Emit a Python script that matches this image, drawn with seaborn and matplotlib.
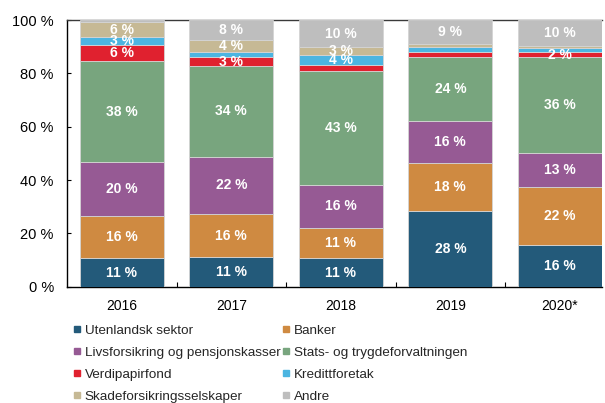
import matplotlib
matplotlib.use("Agg")
import matplotlib.pyplot as plt
from matplotlib.lines import Line2D
from matplotlib.ticker import FixedLocator
import seaborn as sns
import numpy as np

sns.set_theme(style="white")
plt.rcParams["font.family"] = ["Liberation Sans", "DejaVu Sans"]

years = ["2016", "2017", "2018", "2019", "2020*"]

series_names = [
    "Utenlandsk sektor",
    "Banker",
    "Livsforsikring og pensjonskasser",
    "Stats- og trygdeforvaltningen",
    "Verdipapirfond",
    "Kredittforetak",
    "Skadeforsikringsselskaper",
    "Andre",
]

utenlandsk = [10.6, 11.1, 10.6, 28.3, 15.6]
banker = [16.0, 16.1, 11.4, 17.9, 21.8]
livsforsikring = [20.1, 21.6, 16.3, 16.0, 12.8]
stats_trygd = [37.8, 34.0, 42.7, 23.8, 35.9]
verdipapirfond = [6.1, 3.2, 2.1, 2.1, 1.8]
kredittforetak = [3.0, 2.0, 3.8, 1.9, 1.5]
skadeforsikring = [5.6, 4.4, 2.9, 0.9, 1.0]
andre = [0.8, 7.6, 10.2, 9.1, 9.6]

colors = ["#235A7A", "#CF8A41", "#965A94", "#78A57E",
          "#E0212F", "#4CB5E1", "#C6B995", "#BEBEBE"]

# segments too thin to carry a value label: (series index, year index)
unlabeled = {(7, 0), (5, 1), (4, 2), (4, 3), (5, 3), (6, 3), (5, 4), (6, 4)}

values = [utenlandsk, banker, livsforsikring, stats_trygd,
          verdipapirfond, kredittforetak, skadeforsikring, andre]

fig = plt.figure(figsize=(6.05, 4.03), dpi=100)
ax = fig.add_axes([67 / 605, 1 - 286.7 / 403, (602 - 67) / 605, (286.7 - 20) / 403])

bar_w = 0.77
bottom = np.zeros(len(years))
for i, (name, vals, col) in enumerate(zip(series_names, values, colors)):
    sns.barplot(x=years, y=vals, bottom=bottom, color=col, saturation=1,
                width=bar_w, edgecolor="#d4d4d4", linewidth=0.6,
                zorder=3, ax=ax)
    for j, v in enumerate(vals):
        if (i, j) in unlabeled:
            continue
        ax.text(j, bottom[j] + v / 2, f"{v:.0f} %", ha="center", va="center",
                color="white", fontsize=10, fontweight="bold", zorder=4)
    bottom += np.array(vals)

ax.set_xlim(-0.5, 4 + bar_w / 2)
ax.set_ylim(0, 100)
ax.set_yticks(range(0, 101, 20))
ax.set_yticklabels([f"{t} %" for t in range(0, 101, 20)])
ax.set_xlabel("")
ax.set_ylabel("")

ax.tick_params(axis="y", direction="in", length=3, width=0.8, color="black",
               labelsize=10.5, labelcolor="black", pad=9.5, left=True)
ax.tick_params(axis="x", which="major", length=0, labelsize=10,
               labelcolor="black", pad=9)
ax.xaxis.set_minor_locator(FixedLocator([0.5, 1.5, 2.5, 3.5]))
ax.tick_params(axis="x", which="minor", direction="in", length=3.5,
               width=0.8, color="black", bottom=True)

for side in ["left", "bottom"]:
    ax.spines[side].set_color("black")
    ax.spines[side].set_linewidth(1.0)
    ax.spines[side].set_zorder(2)
ax.spines["top"].set_visible(True)
ax.spines["top"].set_color("#3a3a3a")
ax.spines["top"].set_linewidth(1.0)
ax.spines["top"].set_zorder(2)
ax.spines["right"].set_visible(False)
ax.grid(False)

# legend filled row by row in two columns
order = [0, 2, 4, 6, 1, 3, 5, 7]
handles = [Line2D([], [], marker="s", linestyle="none", markersize=5,
                  markerfacecolor=colors[k], markeredgecolor=colors[k])
           for k in order]
labels = [series_names[k] for k in order]
fig.legend(handles, labels, ncol=2, loc="upper left",
           bbox_to_anchor=(70 / 605, 1 - 322 / 403), frameon=False,
           fontsize=9.7, handlelength=0.6, handletextpad=0.3,
           columnspacing=0.1, labelspacing=0.7, borderpad=0.2,
           borderaxespad=0)

fig.savefig("out.png", dpi=100)
